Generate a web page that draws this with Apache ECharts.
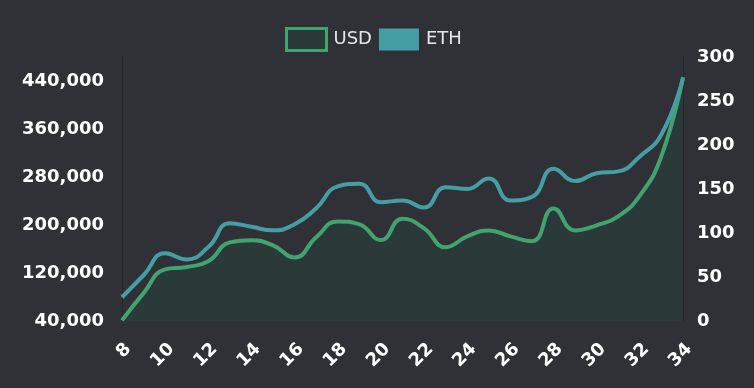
<!DOCTYPE html>
<html>
<head>
<meta charset="utf-8">
<script src="https://cdn.jsdelivr.net/npm/echarts@6/dist/echarts.min.js"></script>
<style>html,body{margin:0;padding:0;background:#303137;}#c{width:754px;height:388px;}</style>
</head>
<body>
<div id="c"></div>
<script>
var days = [8,9,10,11,12,13,14,15,16,17,18,19,20,21,22,23,24,25,26,27,28,29,30,31,32,33,34];
var usd = [41000,86500,126000,130000,139500,171000,174500,166000,146000,179500,206000,201000,175000,210500,194500,163000,181000,191000,181000,173000,227500,191000,199500,214500,249000,315000,446500];
var eth = [27,52,77,70,84,111,107,103,110,128,153,156,135,137,129,152,150,162,137,141,173,159,168,170,187,212,276];
var xTicks = {min: 8, max: 34, interval: 2};
var usdTicks = {min: 40000, max: 480000, interval: 80000};
var ethTicks = {min: 0, max: 300, interval: 50};

var chart = echarts.init(document.getElementById('c'), null, {renderer: 'canvas'});
var labelFont = {color: '#ffffff', fontWeight: 'bold', fontSize: 18, fontFamily: 'DejaVu Sans'};
chart.setOption({
  backgroundColor: '#303137',
  animation: false,
  legend: {
    top: 22,
    left: 280,
    itemWidth: 40,
    itemHeight: 22,
    itemGap: 7,
    icon: 'rect',
    textStyle: {color: '#e6e6e6', fontSize: 18, fontFamily: 'DejaVu Sans', padding: [0, 0, 0, 2]},
    data: [
      {name: 'USD', itemStyle: {color: '#2b3a38', borderColor: '#41a36f', borderWidth: 3}},
      {name: 'ETH', itemStyle: {color: '#459ea3', borderWidth: 0}}
    ]
  },
  grid: {left: 122, right: 71, top: 57, bottom: 67, containLabel: false},
  xAxis: {
    type: 'value',
    min: xTicks.min, max: xTicks.max, interval: xTicks.interval,
    axisLine: {show: false},
    axisTick: {show: false},
    splitLine: {show: false},
    axisLabel: Object.assign({rotate: 45, margin: 19, align: 'right', verticalAlign: 'top'}, labelFont)
  },
  yAxis: [
    {
      type: 'value',
      min: usdTicks.min, max: usdTicks.max, interval: usdTicks.interval,
      axisLine: {show: true, lineStyle: {color: '#26272b', width: 1}},
      axisTick: {show: false},
      splitLine: {show: false},
      axisLabel: Object.assign({margin: 18, showMaxLabel: false, formatter: function(v){return v.toLocaleString('en-US');}}, labelFont)
    },
    {
      type: 'value',
      position: 'right',
      min: ethTicks.min, max: ethTicks.max, interval: ethTicks.interval,
      axisLine: {show: true, lineStyle: {color: '#26272b', width: 1}},
      axisTick: {show: false},
      splitLine: {show: false},
      axisLabel: Object.assign({margin: 14}, labelFont)
    }
  ],
  series: [
    {
      name: 'USD', type: 'line', smooth: true, yAxisIndex: 0, showSymbol: false,
      data: days.map(function(d, i){return [d, usd[i]];}),
      lineStyle: {color: '#41a36f', width: 4},
      itemStyle: {color: '#41a36f'},
      areaStyle: {color: '#2b3a38', opacity: 1, origin: 'start'},
      z: 2
    },
    {
      name: 'ETH', type: 'line', smooth: true, yAxisIndex: 1, showSymbol: false,
      data: days.map(function(d, i){return [d, eth[i]];}),
      lineStyle: {color: '#459ea3', width: 4},
      itemStyle: {color: '#459ea3'},
      z: 3
    }
  ]
});
</script>
</body>
</html>
